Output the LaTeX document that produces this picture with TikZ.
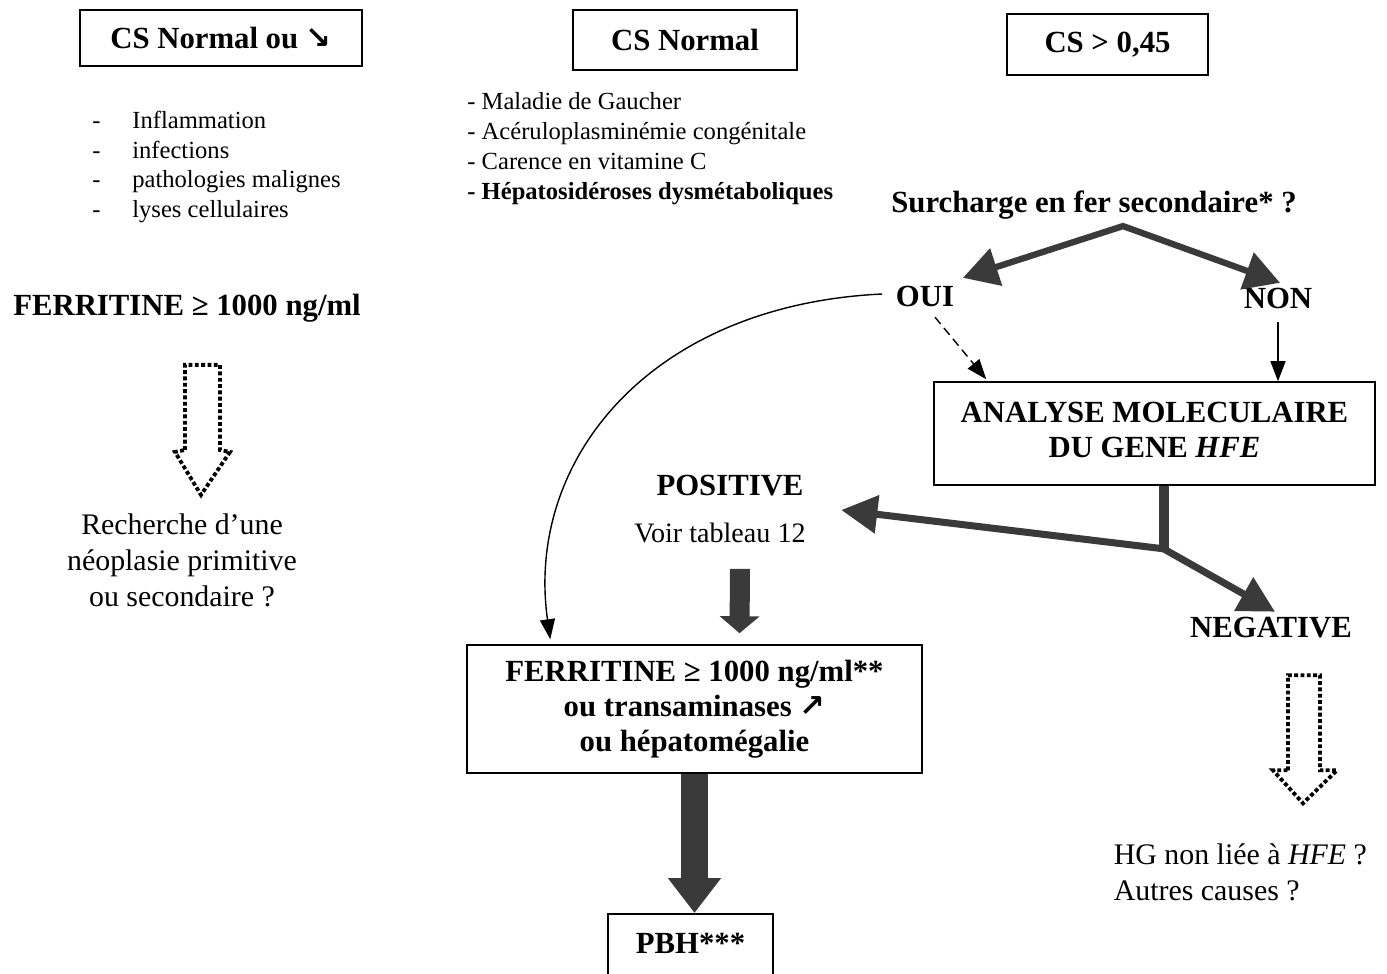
\documentclass[tikz,border=0pt]{standalone}
\usepackage{fontspec}
\setmainfont{Liberation Serif}
\newfontfamily\arrowfont{DejaVu Sans}
\usepackage{tikz}
\usetikzlibrary{arrows.meta, positioning, calc}
\definecolor{arrowGrey}{RGB}{58,58,58}
\newcommand{\fsz}[2]{\fontsize{#1}{#2}\selectfont}
\tikzset{
    box/.style={rectangle, draw=black, line width=0.9pt, align=center,
                font=\fsz{17.5}{20}\bfseries},
    lbl/.style={align=center, inner sep=2pt, font=\fsz{17.5}{20}\bfseries},
    plain/.style={align=center, inner sep=2pt, font=\fsz{17}{20.5}},
    list/.style={align=left, inner sep=0pt, font=\fsz{14}{17}},
    fork/.style={{Triangle[length=0.7cm, width=0.76cm]}-{Triangle[length=0.7cm, width=0.76cm]},
                 line width=3.6pt, line join=miter, arrowGrey},
    branch/.style={{Triangle[length=0.72cm, width=0.74cm]}-{Triangle[length=0.72cm, width=0.74cm]},
                   line width=4pt, line join=miter, arrowGrey},
    stem/.style={line width=0.2cm, arrowGrey},
    blockA/.style={-{Triangle[length=0.34cm, width=0.78cm]}, line width=0.4cm, arrowGrey},
    blockB/.style={-{Triangle[length=0.7cm, width=1.02cm]}, line width=0.55cm, arrowGrey},
    thinarr/.style={-{Triangle[length=0.4cm, width=0.3cm]}, line width=0.8pt, black},
    dotarrow/.style={line width=2.2pt, dash pattern=on 2.2pt off 1.4pt, black}
}

\begin{document}
\begin{tikzpicture}[x=0.02cm, y=-0.02cm]
    \useasboundingbox (0,0) rectangle (1387,974);
    \clip (0,0) rectangle (1387,974);

    % Top boxes
    \node[box, minimum width=5.64cm, minimum height=1.12cm] (csLow) at (221,38) {CS Normal ou {\arrowfont ↘}};
    \node[box, minimum width=4.48cm, minimum height=1.2cm] (csNorm) at (685,40) {CS Normal};
    \node[box, minimum width=4.02cm, minimum height=1.22cm] (csHigh) at (1107.5,44.5) {CS > 0,45};

    % Left column
    \node[list, anchor=west] (causesLow) at (92,167)
        {\makebox[0.8cm][l]{-}Inflammation\\\makebox[0.8cm][l]{-}infections\\
         \makebox[0.8cm][l]{-}pathologies malignes\\\makebox[0.8cm][l]{-}lyses cellulaires};
    \node[lbl] (ferrHigh) at (187,308) {FERRITINE ≥ 1000 ng/ml};
    \node[plain] (neoplasia) at (182,560) {Recherche d’une\\néoplasie primitive\\ou secondaire ?};

    % Middle column
    \node[list, anchor=west] (causesNorm) at (467,148.5)
        {- Maladie de Gaucher\\- Acéruloplasminémie congénitale\\- Carence en vitamine C\\
         \textbf{- Hépatosidéroses dysmétaboliques}};
    \node[lbl] (positive) at (730,486) {POSITIVE};
    \node[plain, font=\fsz{16}{19}] (tableau) at (720,533) {Voir tableau 12};
    \node[box, minimum width=9.1cm, minimum height=2.56cm] (criteria) at (694.5,709)
        {FERRITINE ≥ 1000 ng/ml**\\ou transaminases {\arrowfont ↗}\\ou hépatomégalie};
    \node[box, anchor=north, minimum width=3.3cm, text height=14.8pt, text depth=20pt, inner ysep=8pt]
        (pbh) at (690.5,913) {PBH***};

    % Right column
    \node[lbl] (surcharge) at (1094,205) {Surcharge en fer secondaire* ?};
    \node[lbl] (oui) at (925,296) {OUI};
    \node[lbl] (non) at (1278,298) {NON};
    \node[box, minimum width=8.82cm, minimum height=2.06cm] (hfe) at (1154.5,433.5)
        {ANALYSE MOLECULAIRE\\DU GENE \textit{HFE}\vphantom{g}};
    \node[lbl] (negative) at (1271,628) {NEGATIVE};
    \node[plain, align=left, anchor=west] (nonHfe) at (1110,872) {HG non liée à \textit{HFE} ?\\Autres causes ?};

    % Connectors
    \coordinate (apex) at ($(surcharge.south)+(29,3)$);
    \draw[fork] ($(oui.north east)+(5,-4)$) -- (apex) -- ($(non.north)+(2,-1)$);
    \draw[thinarr] ([yshift=-0.2cm]non.south) -- (hfe.north -| non.south);
    \draw[thinarr, dash pattern=on 5pt off 3pt] ($(oui.south)+(10,7)$) -- ($(hfe.north west)+(53,-2)$);
    \draw[thinarr] ($(oui.west)+(-10,-2)$) .. controls (650,305) and (525,460) .. ($(criteria.north west)+(84,-5)$);

    \coordinate (junc) at ($(hfe.south)+(9,63)$);
    \draw[stem] (hfe.south -| junc) -- ($(junc)+(0,2)$);
    \draw[branch] ($(positive.east)+(34,24)$) -- (junc) -- ($(negative.north)+(4,-2)$);

    \draw[blockA] ($(tableau.south)+(20,22)$) -- ($(criteria.north)+(45,-11)$);
    \draw[blockB] (criteria.south) -- ($(pbh.north)+(4,0)$);

    % Hollow dotted arrows
    \draw[dotarrow] ($(ferrHigh.south)+(-2,124)$) -- ++(0,-85) -- ++(35,0) -- ++(0,85)
        -- ++(10,2) -- ++(-29,43) -- ++(-26,-43) -- cycle;
    \draw[dotarrow] ($(negative.south)+(17,128)$) -- ++(0,-95) -- ++(32,0) -- ++(0,95)
        -- ++(17,0) -- ++(-34,33) -- ++(-30,-33) -- cycle;
\end{tikzpicture}
\end{document}
